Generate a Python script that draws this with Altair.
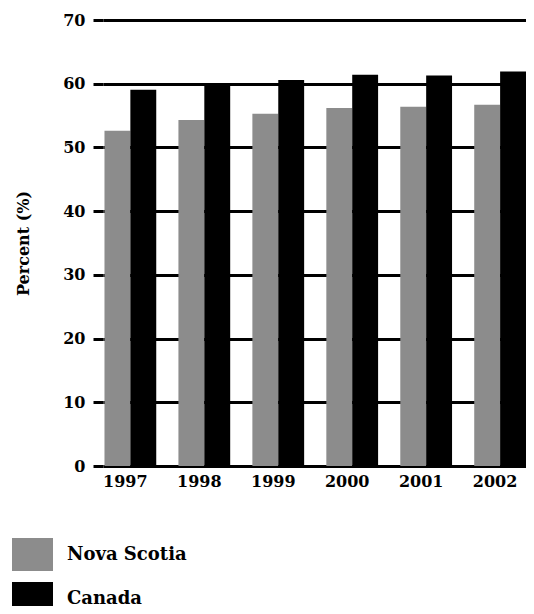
import altair as alt
import pandas as pd

years = ["1997", "1998", "1999", "2000", "2001", "2002"]
nova_scotia = [52.6, 54.3, 55.3, 56.2, 56.4, 56.7]
canada = [59.05, 59.7, 60.6, 61.4, 61.3, 61.9]
series = ["Nova Scotia", "Canada"]
colors = ["#8c8c8c", "#000000"]
y_ticks = [0, 10, 20, 30, 40, 50, 60, 70]

rows = []
for i, yr in enumerate(years):
    rows.append({"year": yr, "series": series[0], "value": nova_scotia[i]})
    rows.append({"year": yr, "series": series[1], "value": canada[i]})
df = pd.DataFrame(rows)

FONT = "DejaVu Serif"

chart = alt.Chart(df).mark_bar().encode(
    x=alt.X("year:N", sort=years,
            scale=alt.Scale(paddingInner=0.3, paddingOuter=0.01, align=1),
            axis=alt.Axis(title=None, ticks=False, domain=False, labelAngle=0,
                          labelFont=FONT, labelFontWeight="bold", labelFontSize=16,
                          labelColor="black", labelPadding=7, labelOffset=-5)),
    xOffset=alt.XOffset("series:N", sort=series, scale=alt.Scale(paddingInner=0, paddingOuter=0)),
    y=alt.Y("value:Q", scale=alt.Scale(domain=[0, 70], nice=False),
            axis=alt.Axis(values=y_ticks, title="Percent (%)", domain=False,
                          grid=True, gridColor="black", gridWidth=3, gridOpacity=1,
                          ticks=True, tickSize=10, tickColor="black", tickWidth=3,
                          labelFont=FONT, labelFontWeight="bold", labelFontSize=16,
                          labelColor="black", labelPadding=8,
                          titleFont=FONT, titleFontWeight="bold", titleFontSize=16,
                          titleColor="black", titleAngle=-90, titleX=-80, titleY=223,
                          titleAlign="center", titleBaseline="middle")),
    color=alt.Color("series:N", sort=series,
                    scale=alt.Scale(domain=series, range=colors),
                    legend=alt.Legend(title=None, orient="none", legendX=-91, legendY=514,
                                      direction="vertical",
                                      symbolType="M-1,-0.805H1V0.805H-1Z", symbolSize=1681,
                                      symbolStrokeWidth=0, symbolOpacity=1,
                                      rowPadding=6, labelOffset=14,
                                      labelFont=FONT, labelFontWeight="bold", labelFontSize=18,
                                      labelColor="black", labelLimit=300)),
).properties(
    width=423,
    height=446,
    autosize=alt.AutoSizeParams(type="none"),
    padding={"left": 95, "top": 12, "right": 0, "bottom": 140},
).configure_view(stroke=None)

chart.save("out.html", embed_options={"renderer": "svg", "actions": False})
